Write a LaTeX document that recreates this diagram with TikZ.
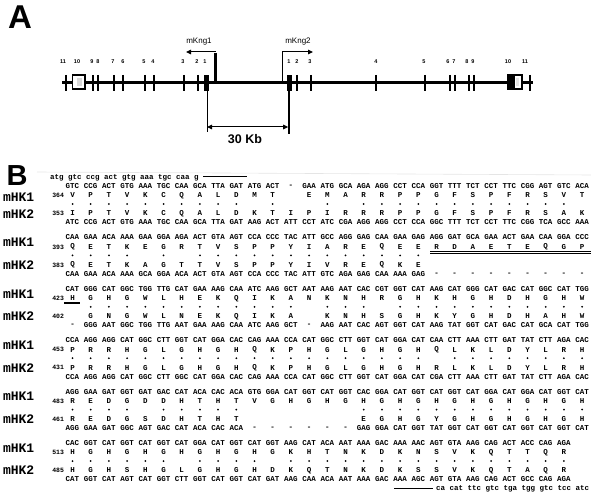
\documentclass[tikz,border=0pt]{standalone}
\usepackage{fontspec}
\setmainfont{Liberation Sans}
\newfontfamily\seqfont{Liberation Mono}
\usetikzlibrary{arrows.meta}
\def\blankmark{o}
\newcommand\seqrow[3]{%
  \foreach \cc [count=\i from 0] in {#3}{%
    \ifx\cc\blankmark\else
      \node[seq] (#2-\i) at ({72.5+18.2*\i},#1) {\cc};
    \fi}}
\newcommand\dotrow[2]{%
  \foreach \i in {#2}{\fill ({72.5+18.2*\i},#1) circle (1);}}
\begin{document}
\begin{tikzpicture}[x=1pt,y=-1pt,
  every node/.style={inner sep=0pt,outer sep=0pt},
  seq/.style={font=\seqfont\bfseries\fontsize{7.5}{8}\selectfont},
  num/.style={font=\seqfont\bfseries\fontsize{6.5}{7}\selectfont,anchor=east},
  lab/.style={font=\seqfont\bfseries\fontsize{13}{14}\selectfont,anchor=west},
  big/.style={font=\bfseries\fontsize{33}{33}\selectfont},
  exn/.style={font=\bfseries\fontsize{5.5}{6}\selectfont},
  gene/.style={line width=3pt},
  ex/.style={line width=2.4pt},
  tip/.style={-{Triangle[length=5pt,width=4.5pt]}},
]
\useasboundingbox (0,0) rectangle (591,497);
% ---------------- Panel A ----------------
\node[big] (A) at (20,17) {A};
\draw[gene] (62,83) -- (533,83);
\foreach \x in {66,93,98,114,123,145,154,184,198,297,311,376,425,450,455,469,474,530}
  \draw[ex] (\x,75) -- (\x,91);
\fill (203.5,75) rectangle (209,91);
\fill (286.5,75) rectangle (292,91);
\draw[line width=1.6pt,fill=white] (72.5,75) rectangle (85,89);
\fill[gray!30] (76.5,78) rectangle (82,86);
\draw[line width=1.6pt,fill=white] (508,75) rectangle (522,89);
\fill (508,75) rectangle (514.5,89);
\fill[gray!20] (515.5,78) rectangle (519,86);
\foreach \t/\x [count=\k] in {11/63,10/77,9/92,8/98,7/113,6/123,5/144,4/153,3/183,2/197,1/205}
  \node[exn] (l\k) at (\x,62) {\t};
\foreach \t/\x [count=\k] in {1/289,2/297,3/310,4/376,5/424,6/448,7/454,8/467,9/473,10/508,11/525}
  \node[exn] (r\k) at (\x,62) {\t};
% promoters
\coordinate (p1b) at (215.5,83); \coordinate (p1t) at (215.5,52); \coordinate (p1e) at (186,52);
\coordinate (p2b) at (282.5,83); \coordinate (p2t) at (282.5,52); \coordinate (p2e) at (313,52);
\draw[line width=2.2pt] (p1b) -- ([yshift=-1.1pt]p1t);
\draw[line width=1pt,tip] (p1t) -- (p1e);
\draw[line width=1pt] (p2b) -- (p2t);
\draw[line width=1pt,tip] ([xshift=-0.5pt]p2t) -- (p2e);
\node[font=\fontsize{8}{9}\selectfont] (k1) at (199,42) {mKng1};
\node[font=\fontsize{8}{9}\selectfont] (k2) at (298,42) {mKng2};
% 30 Kb
\coordinate (d1t) at (207,91); \coordinate (d1b) at (207,132);
\coordinate (d2t) at (289.2,83); \coordinate (d2b) at (289.2,134);
\draw[line width=0.8pt] (d1t) -- (d1b);
\draw[line width=2pt] (d2t) -- (d2b);
\coordinate (m1) at (207,127); \coordinate (m2) at (288.2,127);
\draw[line width=1pt,{Triangle[length=5pt,width=4.5pt]}-{Triangle[length=5pt,width=4.5pt]}] (m1) -- (m2);
\node[font=\bfseries\fontsize{12.5}{13}\selectfont] (kb) at (245,139) {30 Kb};
% ---------------- Panel B ----------------
\node[font=\bfseries\fontsize{29}{29}\selectfont] (B) at (17,176) {B};
\draw[gray!20,line width=0.6pt] (37,172) -- (591,175);
\node[seq,anchor=west] (top) at (50,177.5) {atg gtc ccg act gtg aaa tgc caa g};
\draw[line width=1pt] (203,176.5) -- (247,176.5);
% block 1
\def\y{186}
\node[lab] (h1a) at (3,\y+11.5) {mHK1};
\node[lab] (h2a) at (3,\y+28) {mHK2};
\node[num] (n1a) at (64,\y+9.5) {364};
\node[num] (n2a) at (64,\y+27.5) {353};
\seqrow{\y}{a1}{GTC,CCG,ACT,GTG,AAA,TGC,CAA,GCA,TTA,GAT,ATG,ACT,-,GAA,ATG,GCA,AGA,AGG,CCT,CCA,GGT,TTT,TCT,CCT,TTC,CGG,AGT,GTC,ACA}
\seqrow{\y+9.5}{a2}{V,P,T,V,K,C,Q,A,L,D,M,T,o,E,M,A,R,R,P,P,G,F,S,P,F,R,S,V,T}
\dotrow{\y+18}{0,...,9,11,14,16,17,...,27}
\seqrow{\y+27.5}{a3}{I,P,T,V,K,C,Q,A,L,D,K,T,I,P,I,R,R,R,P,P,G,F,S,P,F,R,S,A,K}
\seqrow{\y+36.5}{a4}{ATC,CCG,ACT,GTG,AAA,TGC,CAA,GCA,TTA,GAT,AAG,ACT,ATT,CCT,ATC,CGA,AGG,AGG,CCT,CCA,GGC,TTT,TCT,CCT,TTC,CGG,TCA,GCC,AAA}
% block 2
\def\y{237.4}
\node[lab] (h1b) at (3,\y+5) {mHK1};
\node[lab] (h2b) at (3,\y+27.5) {mHK2};
\node[num] (n1b) at (64,\y+9.5) {393};
\node[num] (n2b) at (64,\y+27.5) {383};
\seqrow{\y}{b1}{CAA,GAA,ACA,AAA,GAA,GGA,AGA,ACT,GTA,AGT,CCA,CCC,TAC,ATT,GCC,AGG,GAG,CAA,GAA,GAG,AGG,GAT,GCA,GAA,ACT,GAA,CAA,GGA,CCC}
\seqrow{\y+9.5}{b2}{Q,E,T,K,E,G,R,T,V,S,P,P,Y,I,A,R,E,Q,E,E,R,D,A,E,T,E,Q,G,P}
\draw[line width=0.7pt] (430,\y+13.5) -- (591,\y+13.5) (430,\y+15.5) -- (591,\y+15.5);
\dotrow{\y+18}{0,1,2,3,5,7,8,...,19}
\seqrow{\y+27.5}{b3}{Q,E,T,K,A,G,T,T,V,S,P,P,Y,I,V,R,E,Q,K,E}
\seqrow{\y+36.5}{b4}{CAA,GAA,ACA,AAA,GCA,GGA,ACA,ACT,GTA,AGT,CCA,CCC,TAC,ATT,GTC,AGA,GAG,CAA,AAA,GAG,-,-,-,-,-,-,-,-,-}
% block 3
\def\y{288.8}
\node[lab] (h1c) at (3,\y+5) {mHK1};
\node[lab] (h2c) at (3,\y+27.5) {mHK2};
\node[num] (n1c) at (64,\y+9.5) {423};
\node[num] (n2c) at (64,\y+27.5) {402};
\seqrow{\y}{c1}{CAT,GGG,CAT,GGC,TGG,TTG,CAT,GAA,AAG,CAA,ATC,AAG,GCT,AAT,AAG,AAT,CAC,CGT,GGT,CAT,AAG,CAT,GGG,CAT,GAC,CAT,GGC,CAT,TGG}
\seqrow{\y+9.5}{c2}{H,G,H,G,W,L,H,E,K,Q,I,K,A,N,K,N,H,R,G,H,K,H,G,H,D,H,G,H,W}
\draw[line width=1.6pt] (64,\y+14) -- (80,\y+14);
\dotrow{\y+18}{1,...,12,14,15,16,18,19,...,28}
\seqrow{\y+27.5}{c3}{o,G,N,G,W,L,N,E,K,Q,I,K,A,o,K,N,H,S,G,H,K,Y,G,H,D,H,A,H,W}
\seqrow{\y+36.5}{c4}{-,GGG,AAT,GGC,TGG,TTG,AAT,GAA,AAG,CAA,ATC,AAG,GCT,-,AAG,AAT,CAC,AGT,GGT,CAT,AAG,TAT,GGT,CAT,GAC,CAT,GCA,CAT,TGG}
% block 4
\def\y{340.2}
\node[lab] (h1d) at (3,\y+5) {mHK1};
\node[lab] (h2d) at (3,\y+27.5) {mHK2};
\node[num] (n1d) at (64,\y+9.5) {453};
\node[num] (n2d) at (64,\y+27.5) {431};
\seqrow{\y}{d1}{CCA,AGG,AGG,CAT,GGC,CTT,GGT,CAT,GGA,CAC,CAG,AAA,CCA,CAT,GGC,CTT,GGT,CAT,GGA,CAT,CAA,CTT,AAA,CTT,GAT,TAT,CTT,AGA,CAC}
\seqrow{\y+9.5}{d2}{P,R,R,H,G,L,G,H,G,H,Q,K,P,H,G,L,G,H,G,H,Q,L,K,L,D,Y,L,R,H}
\dotrow{\y+18}{0,...,19,21,22,...,28}
\seqrow{\y+27.5}{d3}{P,R,R,H,G,L,G,H,G,H,Q,K,P,H,G,L,G,H,G,H,R,L,K,L,D,Y,L,R,H}
\seqrow{\y+36.5}{d4}{CCA,AGG,AGG,CAT,GGC,CTT,GGC,CAT,GGA,CAC,CAG,AAA,CCA,CAT,GGC,CTT,GGT,CAT,GGA,CAT,CGA,CTT,AAA,CTT,GAT,TAT,CTT,AGA,CAC}
% block 5
\def\y{391.6}
\node[lab] (h1e) at (3,\y+5) {mHK1};
\node[lab] (h2e) at (3,\y+27.5) {mHK2};
\node[num] (n1e) at (64,\y+9.5) {483};
\node[num] (n2e) at (64,\y+27.5) {461};
\seqrow{\y}{e1}{AGG,GAA,GAT,GGT,GAT,GAC,CAT,ACA,CAC,ACA,GTG,GGA,CAT,GGT,CAT,GGT,CAC,GGA,CAT,GGT,CAT,GGT,CAT,GGA,CAT,GGA,CAT,GGT,CAT}
\seqrow{\y+9.5}{e2}{R,E,D,G,D,D,H,T,H,T,V,G,H,G,H,G,H,G,H,G,H,G,H,G,H,G,H,G,H}
\dotrow{\y+18}{0,1,2,3,5,6,7,8,9,16,17,...,28}
\seqrow{\y+27.5}{e3}{R,E,D,G,S,D,H,T,H,T,o,o,o,o,o,o,E,G,H,G,Y,G,H,G,H,G,H,G,H}
\seqrow{\y+36.5}{e4}{AGG,GAA,GAT,GGC,AGT,GAC,CAT,ACA,CAC,ACA,-,-,-,-,-,-,GAG,GGA,CAT,GGT,TAT,GGT,CAT,GGT,CAT,GGT,CAT,GGT,CAT}
% block 6
\def\y{443}
\node[lab] (h1f) at (3,\y+5) {mHK1};
\node[lab] (h2f) at (3,\y+27.5) {mHK2};
\node[num] (n1f) at (64,\y+9.5) {513};
\node[num] (n2f) at (64,\y+27.5) {485};
\seqrow{\y}{f1}{CAC,GGT,CAT,GGT,CAT,GGT,CAT,GGA,CAT,GGT,CAT,GGT,AAG,CAT,ACA,AAT,AAA,GAC,AAA,AAC,AGT,GTA,AAG,CAG,ACT,ACC,CAG,AGA}
\seqrow{\y+9.5}{f2}{H,G,H,G,H,G,H,G,H,G,H,G,K,H,T,N,K,D,K,N,S,V,K,Q,T,T,Q,R}
\dotrow{\y+18}{0,...,5,7,8,9,10,12,13,...,27}
\seqrow{\y+27.5}{f3}{H,G,H,S,H,G,L,G,H,G,H,D,K,Q,T,N,K,D,K,S,S,V,K,Q,T,A,Q,R}
\seqrow{\y+36.5}{f4}{CAT,GGT,CAT,AGT,CAT,GGT,CTT,GGT,CAT,GGT,CAT,GAT,AAG,CAA,ACA,AAT,AAA,GAC,AAA,AGC,AGT,GTA,AAG,CAG,ACT,GCC,CAG,AGA}
\draw[line width=1pt] (394,\y+45) -- (433,\y+45);
\node[seq,anchor=west] (bot) at (436,\y+46) {ca cat ttc gtc tga tgg gtc tcc atc};
\end{tikzpicture}
\end{document}
